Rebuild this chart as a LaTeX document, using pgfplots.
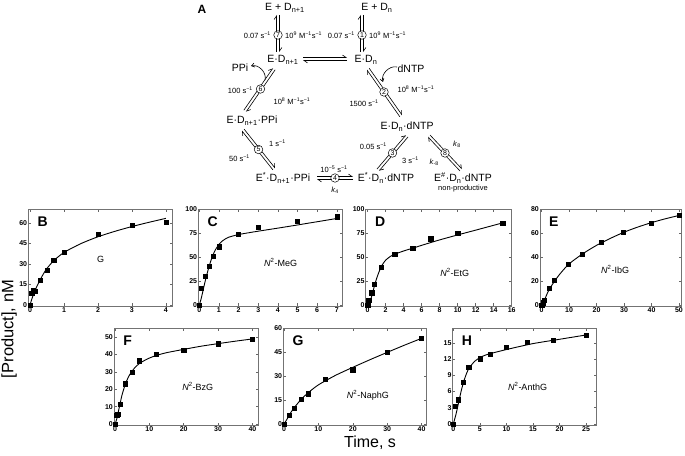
\documentclass[border=0pt]{standalone}
\usepackage{fontspec}
\setmainfont{Liberation Sans}
\usepackage{pgfplots}
\pgfplotsset{compat=1.18}
\usetikzlibrary{arrows.meta,calc}

\newcommand{\mo}{\textsuperscript{−1}}
\newcommand{\sch}{\fontsize{10.5}{12}\selectfont}
\newcommand{\rt}{\fontsize{7.5}{9}\selectfont}
\tikzset{rate/.style={font=\rt, inner sep=1pt}}
\newcommand{\eqarr}[2]{%
  \draw[line width=0.6pt,-{Straight Barb[left,length=3.5pt,width=5pt]}] ($(#1)!1.4pt!90:(#2)$) -- ($(#2)!1.4pt!-90:(#1)$);
  \draw[line width=0.6pt,-{Straight Barb[left,length=3.5pt,width=5pt]}] ($(#2)!1.4pt!90:(#1)$) -- ($(#1)!1.4pt!-90:(#2)$);}
\newcommand{\cnum}[2]{\node[circle,draw,fill=white,inner sep=0pt,minimum size=8.5pt,line width=0.5pt,font=\fontsize{7}{7}\selectfont] at (#1) {#2};}

\pgfplotsset{
  panel/.style={
    anchor=south west, scale only axis, clip=false,
    axis line style={black!55, line width=0.7pt},
    every tick/.style={black!60, line width=0.5pt},
    tick align=inside, tick pos=both,
    major tick length=2.5pt,
    tick label style={font=\fontsize{7}{7}\selectfont\bfseries},
    xticklabel style={inner sep=1pt},
    yticklabel style={inner sep=1pt},
    /pgf/number format/assume math mode=true,
  },
  fitline/.style={black, line width=0.9pt, smooth, tension=0.4, mark=none},
  pts/.style={only marks, mark=square*, mark size=2.1pt, black},
}
\newcommand{\plab}[1]{\node[font=\fontsize{14}{14}\selectfont\bfseries, anchor=west] at (axis description cs:0.04,0.87) {#1};}
\newcommand{\slab}[3]{\node[font=\fontsize{9}{9}\selectfont] at (axis description cs:#1,#2) {#3};}

\begin{document}
\begin{tikzpicture}
\useasboundingbox (0,0) rectangle (685pt,455pt);

% ---------------- Scheme (panel A) ----------------
\begin{scope}[x=1pt,y=-1pt,shift={(0pt,455pt)}]
  \node[font=\fontsize{12}{12}\selectfont\bfseries] at (202,9) {A};
  \node[font=\sch] at (285,8) {E + D\textsubscript{n+1}};
  \node[font=\sch] at (377,8) {E + D\textsubscript{n}};
  \eqarr{278,52}{278,15}
  \eqarr{362,52}{362,15}
  \cnum{278,35}{7}
  \cnum{362,35}{1}
  \node[rate,anchor=east] at (272,35) {0.07 s\mo};
  \node[rate,anchor=west] at (284,35) {10\textsuperscript{9} M\mo s\mo};
  \node[rate,anchor=east] at (356,35) {0.07 s\mo};
  \node[rate,anchor=west] at (368,35) {10\textsuperscript{9} M\mo s\mo};
  \node[font=\sch] at (283,60) {E·D\textsubscript{n+1}};
  \node[font=\sch] at (366,60) {E·D\textsubscript{n}};
  \eqarr{303,59}{347,59}
  % step 6
  \node[font=\sch] at (240,68) {PPi};
  \eqarr{274,69}{245,111}
  \cnum{260.5,89}{6}
  \draw[line width=0.6pt,-{Straight Barb[length=3pt,width=4pt]}] (265,80) to[bend right=60] (251,66);
  \node[rate,anchor=east] at (254,90) {100 s\mo};
  \node[rate] at (292,101) {10\textsuperscript{8} M\mo s\mo};
  \node[font=\sch] at (252,121) {E·D\textsubscript{n+1}·PPi};
  % step 2
  \node[font=\sch] at (411,69) {dNTP};
  \eqarr{368,69}{401,116}
  \cnum{384,92}{2}
  \draw[line width=0.6pt,-{Straight Barb[length=3pt,width=4pt]}] (397,67) to[bend right=60] (383,82);
  \node[rate] at (416,89) {10\textsuperscript{8} M\mo s\mo};
  \node[rate] at (364,103) {1500 s\mo};
  \node[font=\sch] at (407,127) {E·D\textsubscript{n}·dNTP};
  % step 5
  \eqarr{243,130}{274,169}
  \cnum{258.5,149.5}{5}
  \node[rate,anchor=west] at (268,143) {1 s\mo};
  \node[rate,anchor=east] at (251,158) {50 s\mo};
  % step 3
  \eqarr{407,136}{378,170}
  \cnum{392.5,153}{3}
  \node[rate,anchor=east] at (388,146) {0.05 s\mo};
  \node[rate,anchor=west] at (401,160) {3 s\mo};
  % step 8
  \eqarr{429,136}{461,170}
  \cnum{445,153}{8}
  \node[rate,anchor=west] at (452,144) {\textit{k}\textsubscript{8}};
  \node[rate,anchor=east] at (440,162) {\textit{k}\textsubscript{-8}};
  % bottom row
  \node[font=\sch] at (283,178) {E\textsuperscript{*}·D\textsubscript{n+1}·PPi};
  \eqarr{353,178}{317,178}
  \cnum{335,178}{4}
  \node[rate] at (334,169) {10\textsuperscript{−5} s\mo};
  \node[rate] at (335,190) {\textit{k}\textsubscript{4}};
  \node[font=\sch] at (386,178) {E\textsuperscript{*}·D\textsubscript{n}·dNTP};
  \node[font=\sch] at (463,178) {E\textsuperscript{\#}·D\textsubscript{n}·dNTP};
  \node[rate] at (463,189) {non-productive};
\end{scope}

% ---------------- axis titles ----------------
\node[rotate=90,font=\fontsize{16.5}{16.5}\selectfont] at (9pt,126pt) {[Product], nM};
\node[font=\fontsize{16}{16}\selectfont] at (370pt,12.5pt) {Time, s};

% ---------------- B ----------------
\begin{axis}[panel, at={(28.3pt,149pt)}, width=144.4pt, height=96.5pt,
  xmin=-0.05, xmax=4.2, ymin=-0.8, ymax=70,
  xtick={0,1,2,3,4}, ytick={0,15,30,45,60}]
\addplot[fitline] coordinates {(0,0) (0.05,4) (0.1,7.5) (0.2,13.5) (0.3,18.5) (0.4,23) (0.5,26.8) (0.7,32.5) (1,38.5) (1.5,45) (2,50) (2.5,54) (3,57.5) (3.5,60.6) (4,63.5)};
\addplot[pts] coordinates {(0,0) (0.05,8.5) (0.1,11) (0.15,10) (0.3,18.3) (0.5,25.5) (0.7,32.8) (1,38.6) (2,51.8) (3,58.2) (4,60.8)};
\plab{B}
\slab{0.5}{0.48}{G}
\end{axis}

% ---------------- C ----------------
\begin{axis}[panel, at={(198.3pt,149pt)}, width=144.4pt, height=96.5pt,
  xmin=-0.05, xmax=7.3, ymin=-1, ymax=100,
  xtick={0,1,...,7}, ytick={0,25,50,75,100}]
\addplot[fitline] coordinates {(0,0) (0.1,7) (0.2,16) (0.3,25) (0.4,33) (0.5,40.5) (0.6,47) (0.7,52.5) (0.8,57) (0.9,60.5) (1,63.5) (1.2,67.5) (1.5,71) (2,73.8) (2.5,75.6) (3,77.3) (4,80.5) (5,83.8) (6,87.2) (7,90.6)};
\addplot[pts] coordinates {(0,0) (0.1,17.5) (0.3,30) (0.5,41) (0.7,51) (1,61) (2,74.5) (3,81.7) (5,88) (7,92.4)};
\plab{C}
\slab{0.57}{0.45}{\textit{N}\textsuperscript{2}-MeG}
\end{axis}

% ---------------- D ----------------
\begin{axis}[panel, at={(365.7pt,149pt)}, width=146pt, height=96.5pt,
  xmin=-0.22, xmax=16, ymin=-1, ymax=100,
  xtick={0,2,...,16}, ytick={0,25,50,75,100}]
\addplot[fitline] coordinates {(0,0) (0.25,3.5) (0.5,11) (0.75,20) (1,28) (1.25,34.5) (1.5,40) (1.75,44) (2,47) (2.5,50.8) (3,53.2) (4,56.6) (5,59.5) (6,62.5) (7,65.4) (8,68.2) (10,73.4) (12,78.4) (15,86)};
\addplot[pts] coordinates {(0,0) (0.05,4.5) (0.2,5) (0.45,13) (0.75,21.5) (1.5,39.5) (3,53.4) (5,59.3) (7,69.5) (10,74.8) (15,85.8)};
\plab{D}
\slab{0.61}{0.35}{\textit{N}\textsuperscript{2}-EtG}
\end{axis}

% ---------------- E ----------------
\begin{axis}[panel, at={(540pt,149pt)}, width=141.7pt, height=96.5pt,
  xmin=-0.6, xmax=51, ymin=-0.8, ymax=80,
  xtick={0,10,...,50}, ytick={0,20,...,80}]
\addplot[fitline] coordinates {(0,0) (0.5,1.8) (1,4) (2,9.5) (3,14) (5,21) (7,27) (10,34.5) (15,43) (20,50) (25,55.8) (30,61) (35,65.3) (40,69) (45,72.2) (50,75)};
\addplot[pts] coordinates {(0,0) (0.5,2) (1,4) (2.7,14) (4.7,21) (9.8,34.5) (14.8,42.4) (21.8,52.8) (29.8,61) (39.8,68.8) (50,75)};
\plab{E}
\slab{0.53}{0.375}{\textit{N}\textsuperscript{2}-IbG}
\end{axis}

% ---------------- F ----------------
\begin{axis}[panel, at={(114pt,30pt)}, width=144.3pt, height=96.5pt,
  xmin=-0.3, xmax=41.7, ymin=-0.5, ymax=55,
  xtick={0,10,...,40}, ytick={0,10,...,50}]
\addplot[fitline] coordinates {(0,0) (0.5,3) (1,7.5) (1.5,12) (2,16.5) (3,23) (4,27.5) (5,30.6) (6,33) (7,34.7) (8,36) (10,38) (12,39.5) (15,41.1) (20,43) (25,44.8) (30,46.3) (35,47.7) (40,49)};
\addplot[pts] coordinates {(0,0) (0.5,5) (0.8,5.5) (1.5,11.6) (3,23.2) (5,29.7) (7,36.5) (12,40) (20,42.5) (30,46.3) (40,48.8)};
\plab{F}
\slab{0.58}{0.4}{\textit{N}\textsuperscript{2}-BzG}
\end{axis}

% ---------------- G ----------------
\begin{axis}[panel, at={(283.3pt,30pt)}, width=143.4pt, height=96.5pt,
  xmin=-0.2, xmax=41.5, ymin=-0.6, ymax=60,
  xtick={0,10,...,40}, ytick={0,15,...,60}]
\addplot[fitline] coordinates {(0,0) (1,3.5) (2,7.3) (3,10.4) (5,15.5) (7,19.6) (10,24.6) (15,30.6) (20,35.6) (25,40.4) (30,45) (35,49.5) (40,53.8)};
\addplot[pts] coordinates {(0,0) (1.5,5.4) (3,10) (5,15.4) (7,19) (12,28) (20,34.1) (30,45.3) (40,53.9)};
\plab{G}
\slab{0.59}{0.31}{\textit{N}\textsuperscript{2}-NaphG}
\end{axis}

% ---------------- H ----------------
\begin{axis}[panel, at={(452.7pt,30pt)}, width=144pt, height=96.5pt,
  xmin=-0.12, xmax=27, ymin=-0.2, ymax=17.7,
  xtick={0,5,...,25}, ytick={0,3,...,15}]
\addplot[fitline] coordinates {(0,0) (0.5,1.8) (1,4) (1.5,6.2) (2,8) (2.5,9.4) (3,10.4) (4,11.6) (5,12.3) (6,12.75) (7,13.05) (10,13.8) (15,14.9) (20,15.7) (25,16.5)};
\addplot[pts] coordinates {(0,0) (0.4,3.3) (0.95,4.5) (1.9,7.7) (2.9,10.5) (5,12.1) (7,13) (10,14.3) (13.9,15.1) (18.8,15.5) (25,16.5)};
\plab{H}
\slab{0.52}{0.4}{\textit{N}\textsuperscript{2}-AnthG}
\end{axis}

\end{tikzpicture}
\end{document}
